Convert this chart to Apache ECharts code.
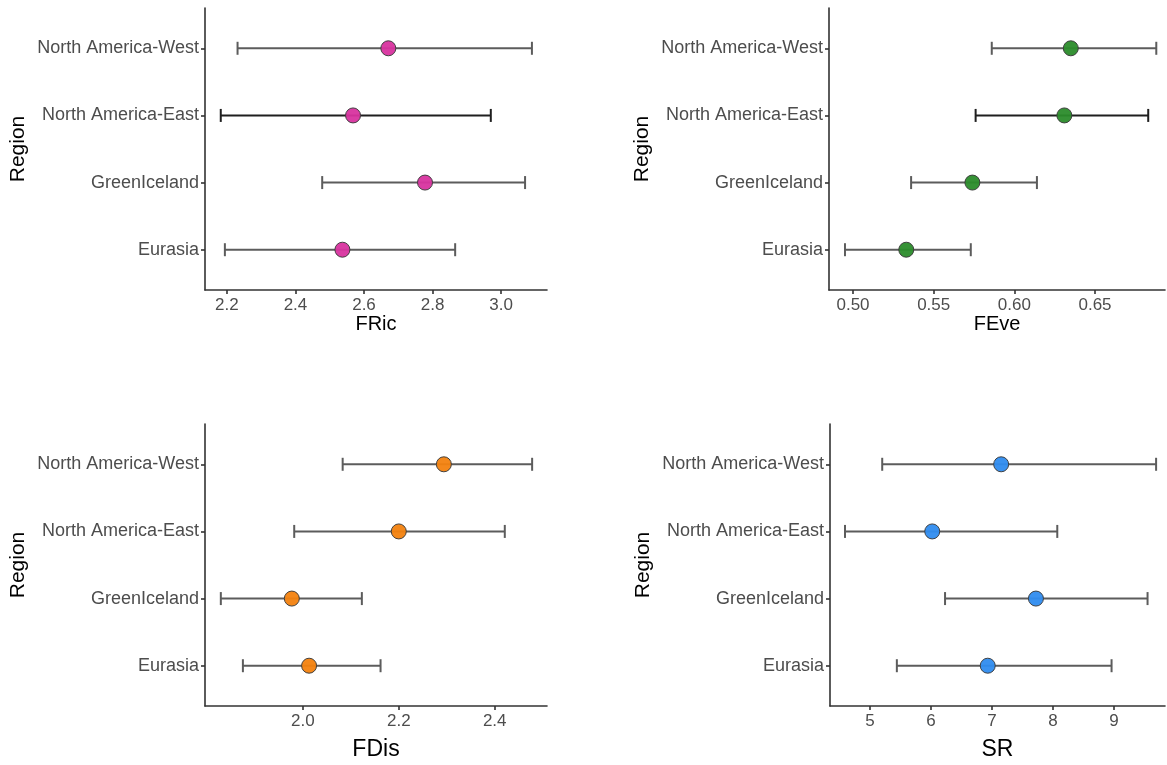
<!DOCTYPE html>
<html>
<head>
<meta charset="utf-8">
<script src="https://cdn.jsdelivr.net/npm/echarts@6/dist/echarts.min.js"></script>
<style>
  html, body { margin: 0; padding: 0; background: #ffffff; }
  #chart { width: 1167px; height: 765px; }
</style>
</head>
<body>
<div id="chart"></div>
<script>
// Regions, bottom row first (y = index + 1)
const regions = ['Eurasia', 'GreenIceland', 'North America-East', 'North America-West'];

// Functional richness
const fricMean  = [2.537, 2.778, 2.568, 2.671];
const fricLower = [2.194, 2.478, 2.182, 2.231];
const fricUpper = [2.866, 3.070, 2.970, 3.090];
const fricTicks = [2.2, 2.4, 2.6, 2.8, 3.0];

// Functional evenness
const feveMean  = [0.533, 0.574, 0.631, 0.635];
const feveLower = [0.495, 0.536, 0.576, 0.586];
const feveUpper = [0.573, 0.614, 0.683, 0.688];
const feveTicks = [0.50, 0.55, 0.60, 0.65];

// Functional dispersion
const fdisMean  = [2.013, 1.977, 2.200, 2.294];
const fdisLower = [1.875, 1.829, 1.982, 2.083];
const fdisUpper = [2.162, 2.123, 2.421, 2.478];
const fdisTicks = [2.0, 2.2, 2.4];

// Species richness
const srMean  = [6.93, 7.72, 6.02, 7.15];
const srLower = [5.44, 6.23, 4.59, 5.20];
const srUpper = [8.96, 9.55, 8.07, 9.69];
const srTicks = [5, 6, 7, 8, 9];

const yTicks = [1, 2, 3, 4];
const FONT = '"Liberation Sans", Arial, sans-serif';

const panels = [
  { name: 'FRic', mean: fricMean, lo: fricLower, hi: fricUpper, ticks: fricTicks, dec: 1,
    min: 2.136, max: 3.134, color: '#d8339f', grid: { left: 205, top: 8, width: 342, height: 282 },
    nameGap: 23, nameSize: 20, eastDark: true },
  { name: 'FEve', mean: feveMean, lo: feveLower, hi: feveUpper, ticks: feveTicks, dec: 2,
    min: 0.4851, max: 0.6934, color: '#2b8c2b', grid: { left: 829, top: 8, width: 336, height: 282 },
    nameGap: 23, nameSize: 20, eastDark: true },
  { name: 'FDis', mean: fdisMean, lo: fdisLower, hi: fdisUpper, ticks: fdisTicks, dec: 1,
    min: 1.796, max: 2.509, color: '#f3820f', grid: { left: 205, top: 424, width: 342, height: 282 },
    nameGap: 32, nameSize: 23, eastDark: false },
  { name: 'SR', mean: srMean, lo: srLower, hi: srUpper, ticks: srTicks, dec: 0,
    min: 4.344, max: 9.836, color: '#2f8cef', grid: { left: 830, top: 424, width: 335, height: 282 },
    nameGap: 32, nameSize: 23, eastDark: false }
];

const grids = [], xAxes = [], yAxes = [], series = [];
const axisLineStyle = { color: '#333333', width: 1.6 };

panels.forEach((p, i) => {
  grids.push(Object.assign({ containLabel: false }, p.grid));

  xAxes.push({
    type: 'value', gridIndex: i, min: p.min, max: p.max,
    name: p.name, nameLocation: 'middle', nameGap: p.nameGap,
    nameTextStyle: { fontFamily: FONT, fontSize: p.nameSize, color: '#000000' },
    splitLine: { show: false },
    axisLine: { show: true, onZero: false, lineStyle: axisLineStyle },
    axisTick: { show: true, length: 4, customValues: p.ticks, lineStyle: axisLineStyle },
    axisLabel: { customValues: p.ticks, margin: 7, fontFamily: FONT, fontSize: 17, color: '#4d4d4d',
      formatter: v => Number(v).toFixed(p.dec) }
  });

  yAxes.push({
    type: 'value', gridIndex: i, min: 0.4, max: 4.6,
    name: 'Region', nameLocation: 'middle', nameGap: 176, nameRotate: 90,
    nameTextStyle: { fontFamily: FONT, fontSize: 21, color: '#000000' },
    splitLine: { show: false },
    axisLine: { show: true, onZero: false, lineStyle: axisLineStyle },
    axisTick: { show: true, length: 4, customValues: yTicks, lineStyle: axisLineStyle },
    axisLabel: { customValues: yTicks, margin: 6, fontFamily: FONT, fontSize: 18, color: '#4d4d4d',
      formatter: v => regions[Math.round(v) - 1] }
  });

  // Error bars: [lower, upper, row]
  const barData = regions.map((r, k) => [p.lo[k], p.hi[k], k + 1]);
  series.push({
    type: 'custom', xAxisIndex: i, yAxisIndex: i, z: 2,
    data: barData,
    encode: { x: [0, 1], y: 2 },
    renderItem: (params, api) => {
      const row = api.value(2);
      const a = api.coord([api.value(0), row]);
      const b = api.coord([api.value(1), row]);
      const h = 6.5;
      const dark = p.eastDark && row === 3;
      const style = { stroke: dark ? '#1f1f1f' : '#5c5c5c', lineWidth: 2, fill: null };
      return {
        type: 'group',
        children: [
          { type: 'line', shape: { x1: a[0], y1: a[1], x2: b[0], y2: b[1] }, style },
          { type: 'line', shape: { x1: a[0], y1: a[1] - h, x2: a[0], y2: a[1] + h }, style },
          { type: 'line', shape: { x1: b[0], y1: b[1] - h, x2: b[0], y2: b[1] + h }, style }
        ]
      };
    }
  });

  // Means
  series.push({
    type: 'scatter', xAxisIndex: i, yAxisIndex: i, z: 3,
    symbol: 'circle', symbolSize: 15,
    data: regions.map((r, k) => [p.mean[k], k + 1]),
    itemStyle: { color: p.color, opacity: 0.95, borderColor: '#3a3a3a', borderWidth: 1 },
    emphasis: { disabled: true }
  });
});

const chart = echarts.init(document.getElementById('chart'), null, { renderer: 'canvas' });
chart.setOption({
  animation: false,
  backgroundColor: '#ffffff',
  grid: grids,
  xAxis: xAxes,
  yAxis: yAxes,
  series: series
});
</script>
</body>
</html>
